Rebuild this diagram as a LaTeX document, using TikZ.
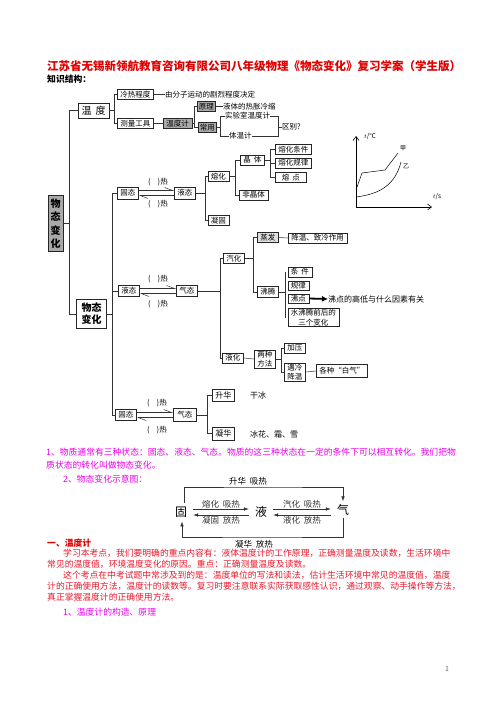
\documentclass[tikz,border=0pt]{standalone}
\usepackage{fontspec}
\setmainfont{Noto Sans CJK SC}
\usetikzlibrary{arrows.meta}

\definecolor{titlered}{RGB}{225,0,0}
\definecolor{pinktext}{RGB}{235,0,235}
\definecolor{redtext}{RGB}{235,25,45}
\definecolor{boxgray}{RGB}{170,170,170}

\tikzset{
  box/.style={draw=black!85, line width=0.7pt, inner xsep=3pt, inner ysep=1pt,
    minimum height=10pt, font=\fontsize{7.5}{9}\selectfont},
  gbox/.style={box, fill=boxgray},
  txt/.style={inner sep=0pt, font=\fontsize{7.5}{9}\selectfont},
  link/.style={line width=0.5pt, black!80},
  harp/.style={link, -{Straight Barb[left,length=8pt,width=6pt]}},
  para/.style={anchor=west, inner sep=0pt, font=\fontsize{8.8}{10}\selectfont},
  lab/.style={inner sep=1pt, font=\fontsize{8.5}{10}\selectfont},
  big/.style={inner xsep=6pt, inner ysep=1pt, font=\fontsize{12}{14}\selectfont},
  arr/.style={link, -{Latex[length=5pt,width=3.5pt]}},
}

\begin{document}
\begin{tikzpicture}[x=1pt,y=-1pt]

\fill[white] (0,0) rectangle (496,702);
\useasboundingbox (0,0) rectangle (496,702);

% title
\node[anchor=west, inner sep=0pt, text=titlered, font=\fontsize{11.5}{13}\bfseries\selectfont] (title) at (47,66)
  {江苏省无锡新领航教育咨询有限公司八年级物理《物态变化》复习学案（学生版）};
\node[anchor=west, inner sep=0pt, font=\fontsize{8.8}{10}\bfseries\selectfont] (zhishi) at (47,79) {知识结构：};

% temperature branch
\node[box, font=\fontsize{10}{12}\selectfont, inner xsep=3.5pt, inner ysep=3pt] (wendu) at (93.5,110.5) {温\hspace{4pt}度};
\node[box, anchor=west] (lengre) at (117,94.5) {冷热程度};
\node[txt, anchor=west] (fenzi) at (165,94.5) {由分子运动的剧烈程度决定};
\node[box, anchor=west] (celiang) at (117,123.5) {测量工具};
\node[gbox, anchor=west] (wenduji) at (163,123.5) {温度计};
\node[gbox, anchor=west, inner xsep=1.5pt] (yuanli) at (197,106.5) {原理};
\node[txt, anchor=west] (yuanlitxt) at (223,106.5) {液体的热胀冷缩};
\node[gbox, anchor=west, inner xsep=1.5pt] (changyong) at (198,127.5) {常用};
\node[txt, anchor=west] (shiyan) at (225,116) {实验室温度计};
\node[txt, anchor=west] (tiwen) at (229,136) {体温计};
\node[txt, anchor=west] (qubie) at (282,127) {区别?};
\coordinate (qx) at (278,127);

\draw[link] (wendu.east) -- ++(5,0) |- (lengre.west);
\draw[link] (wendu.east) -- ++(5,0) |- (celiang.west);
\draw[link] (lengre.east) -- (fenzi.west);
\draw[link] (celiang.east) -- (wenduji.west);
\draw[link] (wenduji.east) -- ++(2,0) |- (yuanli.west);
\draw[link] (wenduji.east) -- ++(2,0) |- (changyong.west);
\draw[link] (yuanli.east) -- (yuanlitxt.west);
\draw[link] (changyong.east) -- ++(4,0) |- (shiyan.west);
\draw[link] (changyong.east) -- ++(4,0) |- (tiwen.west);
\draw[link] (shiyan.east) -| (qx) -- (qubie.west);
\draw[link] (tiwen.east) -| (qx);

% main trunk
\node[gbox, font=\fontsize{10}{13.5}\bfseries\selectfont, align=center, inner xsep=2.5pt, inner ysep=3pt] (wutai1) at (55.5,223.5) {物\\态\\变\\化};
\node[box, font=\fontsize{10}{12}\bfseries\selectfont, align=center, inner xsep=5pt, inner ysep=4pt] (wutai2) at (91.5,314) {物态\\变化};
\coordinate (trunk) at (69,110.5);
\coordinate (v0) at (112,0);
\draw[link] (wendu.west) -- (trunk) |- (wutai2.west);
\draw[link] (wutai1.east) -- (wutai1.east -| trunk);

% solid <-> liquid
\node[box, anchor=west, minimum height=12pt] (gu1) at (117,193) {固态};
\node[box, anchor=west, minimum height=12pt] (ye1) at (174,193) {液态};
\draw[harp] ([yshift=2.5pt]gu1.east) -- ([yshift=2.5pt]ye1.west);
\draw[harp] ([yshift=-2.5pt]ye1.west) -- ([yshift=-2.5pt]gu1.east);
\node[txt] (re1a) at (158,182) {(\hspace{7pt})热};
\node[txt] (re1b) at (158,204) {(\hspace{7pt})热};

\node[box, anchor=west, minimum height=11pt] (gu2) at (115,415) {固态};
\node[box, anchor=west, minimum height=11pt] (ye2) at (118,291) {液态};
\draw[link] (wutai2.east) -- (wutai2.east -| v0) |- (gu1.west);
\draw[link] (wutai2.east -| v0) |- (ye2.west);
\draw[link] (wutai2.east -| v0) |- (gu2.west);

\coordinate (v1) at (205,0);
\node[box, anchor=west] (ronghua) at (207.5,176.5) {熔化};
\node[box, anchor=west] (ninggu) at (207.5,220.5) {凝固};
\draw[link] (ye1.east) -- (ye1.east -| v1) |- (ronghua.west);
\draw[link] (ye1.east -| v1) |- (ninggu.west);

\coordinate (v2) at (235,0);
\node[box, anchor=west] (jingti) at (240,160) {晶\hspace{3pt}体};
\node[box, anchor=west] (feijingti) at (239,195) {非晶体};
\draw[link] (ronghua.east) -- (ronghua.east -| v2) |- (jingti.west);
\draw[link] (ronghua.east -| v2) |- (feijingti.west);

\coordinate (v3) at (270,0);
\node[box, anchor=west] (tiaojian1) at (275,149.5) {熔化条件};
\node[box, anchor=west] (guilv1) at (275,163) {熔化规律};
\node[box, anchor=west, minimum width=31pt] (rongdian) at (275,177.5) {熔\hspace{3pt}点};
\draw[link] (jingti.east) -- (jingti.east -| v3) |- (tiaojian1.west);
\draw[link] (jingti.east -| v3) |- (guilv1.west);
\draw[link] (jingti.east -| v3) |- (rongdian.west);

% graph
\coordinate (o) at (356,207);
\draw[line width=0.6pt, -{Straight Barb[length=4pt,width=6pt]}] (o) -- (432,207);
\draw[line width=0.6pt, -{Straight Barb[length=4pt,width=6pt]}] (o) -- (356,136);
\draw[line width=0.5pt] (356,190) -- (362,173) -- (385,170) -- (398,153);
\draw[line width=0.5pt] (356,197) .. controls (380,194) and (395,185) .. (401,162);
\node[txt, font=\fontsize{6}{7}\selectfont] (jia) at (403,148) {甲};
\node[txt, font=\fontsize{6}{7}\selectfont] (yi) at (406,166) {乙};
\node[txt, font=\fontsize{6.5}{7}\selectfont] (ty) at (370,136) {$t$/℃};
\node[txt, font=\fontsize{6.5}{7}\selectfont] (tx) at (437,196) {$t$/s};

% liquid <-> gas
\node[box, anchor=west, minimum height=11pt] (qi1) at (176,291) {气态};
\draw[harp] ([yshift=2.5pt]ye2.east) -- ([yshift=2.5pt]qi1.west);
\draw[harp] ([yshift=-2.5pt]qi1.west) -- ([yshift=-2.5pt]ye2.east);
\node[txt] (re2a) at (158,279) {(\hspace{7pt})热};
\node[txt] (re2b) at (158,304) {(\hspace{7pt})热};

\coordinate (v4) at (220,0);
\node[box, anchor=west] (qihua) at (223,258.5) {汽化};
\node[box, anchor=west] (yehua) at (222,358) {液化};
\draw[link] (qi1.east) -- (qi1.east -| v4) |- (qihua.west);
\draw[link] (qi1.east -| v4) |- (yehua.west);

\coordinate (v5) at (253,0);
\node[box, anchor=west, fill=black!12] (zhengfa) at (257,237.5) {蒸发};
\node[box, anchor=west] (jiangwen) at (288,238) {降温、致冷作用};
\node[box, anchor=west, minimum height=11pt] (feiteng) at (257,292) {沸腾};
\draw[link] (qihua.east) -- (qihua.east -| v5) |- (zhengfa.west);
\draw[link] (qihua.east -| v5) |- (feiteng.west);
\draw[link] (zhengfa.east) -- (jiangwen.west);

\coordinate (v6) at (285.5,0);
\node[box, anchor=west] (tiaojian2) at (287.5,272) {条\hspace{3pt}件};
\node[box, anchor=west, minimum height=9pt] (guilv2) at (287.5,285.5) {规律};
\node[box, anchor=west, minimum height=9pt] (feidian) at (287.5,298.5) {沸点};
\node[box, anchor=west, align=center, font=\fontsize{7.5}{9.5}\selectfont] (qianhou) at (287.5,317.5) {水沸腾前后的\\三个变化};
\node[txt, anchor=west, font=\fontsize{8}{9}\selectfont] (yinsu) at (328,299) {沸点的高低与什么因素有关};
\draw[link] (feiteng.east) -- (feiteng.east -| v6);
\draw[link] (tiaojian2.west -| v6) -- (qianhou.west -| v6);
\draw[line width=1.8pt, -{Latex[length=6pt,width=6pt]}] (feidian.east) -- (yinsu.west);

\coordinate (v7) at (281.5,0);
\node[box, anchor=west, align=center, font=\fontsize{7.5}{9}\selectfont] (liangzhong) at (254,359) {两种\\方法};
\node[box, anchor=west] (jiaya) at (284,348) {加压};
\node[box, anchor=west, align=center, font=\fontsize{7.5}{9}\selectfont] (yuleng) at (284,372) {遇冷\\降温};
\node[box, anchor=west, minimum height=13pt] (baiqi) at (316,371) {各种“白气”};
\draw[link] (yehua.east) -- (liangzhong.west);
\draw[link] (liangzhong.east) -- (liangzhong.east -| v7) |- (jiaya.west);
\draw[link] (liangzhong.east -| v7) |- (yuleng.west);
\draw[link] (yuleng.east) -- (baiqi.west);

% solid <-> gas
\node[box, anchor=west, minimum height=13pt, inner xsep=4pt] (qi2) at (173,415) {气态};
\draw[harp] ([yshift=2.5pt]gu2.east) -- ([yshift=2.5pt]qi2.west);
\draw[harp] ([yshift=-2.5pt]qi2.west) -- ([yshift=-2.5pt]gu2.east);
\node[txt] (re3a) at (157,403) {(\hspace{7pt})热};
\node[txt] (re3b) at (157,430) {(\hspace{7pt})热};

\coordinate (v8) at (207,0);
\node[box, anchor=west, minimum height=12pt, font=\fontsize{8}{9}\selectfont] (shenghua) at (212,395) {升华};
\node[box, anchor=west, minimum height=13pt, font=\fontsize{8}{9}\selectfont] (ninghua) at (212,433.5) {凝华};
\node[txt, anchor=west, font=\fontsize{8}{9}\selectfont] (ganbing) at (250,395) {干冰};
\node[txt, anchor=west, font=\fontsize{8}{9}\selectfont] (binghua) at (250,434) {冰花、霜、雪};
\draw[link] (qi2.east) -- (qi2.east -| v8) |- (shenghua.west);
\draw[link] (qi2.east -| v8) |- (ninghua.west);

% text
\node[para, text=pinktext] (p1) at (46,452) {1、物质通常有三种状态：固态、液态、气态。物质的这三种状态在一定的条件下可以相互转化。我们把物};
\node[para, text=pinktext] (p2) at (46,465) {质状态的转化叫做物态变化。};
\node[para, text=pinktext] (p3) at (63,479) {2、物态变化示意图：};

% state diagram
\node[big] (gu) at (181,512) {固};
\node[big] (ye) at (261,512) {液};
\node[big] (qi) at (343,510) {气};
\coordinate (loopT) at (262,487);
\coordinate (loopB) at (262,537);
\draw[arr] ([yshift=3pt,xshift=3pt]gu.north) |- (loopT) -| ([yshift=2pt]qi.north);
\node[lab] (shx) at (248,481) {升华\hspace{4pt}吸热};
\draw[arr] ([yshift=3pt]gu.east) -- node[lab, above, inner sep=0.5pt] (rhx) {熔化\hspace{4pt}吸热} ([yshift=3pt]ye.west);
\draw[arr] ([yshift=-3pt]ye.west) -- node[lab, below, inner sep=1.5pt] (ngf) {凝固\hspace{4pt}放热} ([yshift=-3pt]gu.east);
\draw[arr] ([yshift=3pt]ye.east) -- node[lab, above, inner sep=0.5pt] (qhx) {汽化\hspace{4pt}吸热} ([yshift=1pt]qi.west);
\draw[arr] ([yshift=-5pt]qi.west) -- node[lab, below, inner sep=1.5pt] (yhf) {液化\hspace{4pt}放热} ([yshift=-3pt]ye.east);
\draw[arr] ([yshift=-1pt]qi.south) |- (loopB) -| ([yshift=-3pt,xshift=1pt]gu.south);
\node[lab] (nhf) at (254,544) {凝华\hspace{4pt}放热};

\node[para, text=titlered, font=\fontsize{8.8}{10}\bfseries\selectfont] (h1) at (47,543) {一、温度计};
\node[para, text=redtext] (r1) at (63,553) {学习本考点，我们要明确的重点内容有：液体温度计的工作原理，正确测量温度及读数，生活环境中};
\node[para, text=redtext] (r2) at (47,564) {常见的温度值，环境温度变化的原因。重点：正确测量温度及读数。};
\node[para, text=redtext] (r3) at (63,575) {这个考点在中考试题中常涉及到的是：温度单位的写法和读法，估计生活环境中常见的温度值，温度};
\node[para, text=redtext] (r4) at (47,586) {计的正确使用方法，温度计的读数等。复习时要注意联系实际获取感性认识，通过观察、动手操作等方法，};
\node[para, text=redtext] (r5) at (47,597) {真正掌握温度计的正确使用方法。};
\node[para, text=pinktext] (p4) at (63,612) {1、温度计的构造、原理};

\node[txt, text=black!60, font=\fontsize{7}{8}\selectfont] (pnum) at (447,669) {1};

\end{tikzpicture}
\end{document}
